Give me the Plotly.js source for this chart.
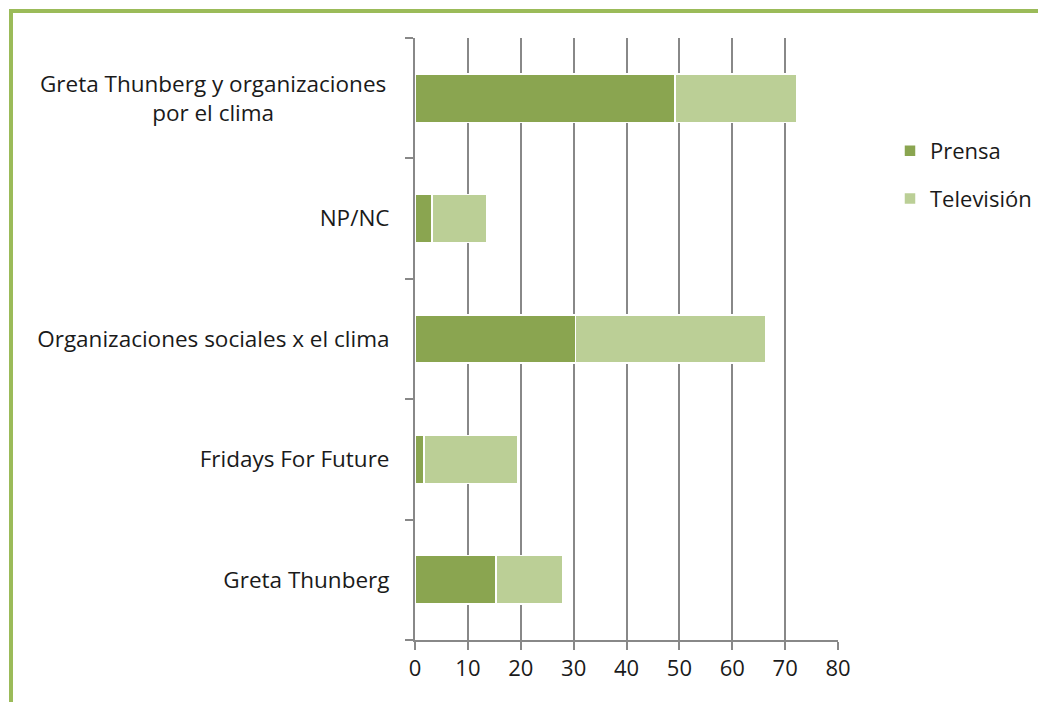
<!DOCTYPE html>
<html>
<head>
<meta charset="utf-8">
<script src="https://cdn.plot.ly/plotly-3.0.1.min.js"></script>
<style>html,body{margin:0;padding:0;background:#fff;}#chart{width:1038px;height:702px;}</style>
</head>
<body>
<div id="chart"></div>
<script>
const categories = ['Greta Thunberg', 'Fridays For Future', 'Organizaciones sociales x el clima', 'NP/NC', 'Greta Thunberg y organizaciones<br>por el clima'];
const prensa = [15.3, 1.7, 30.4, 3.2, 49.2];
const television = [12.7, 17.8, 36.0, 10.4, 23.0];
const seriesNames = ['Prensa', 'Televisión'];
const xTicks = [0, 10, 20, 30, 40, 50, 60, 70, 80];

const W = 1038, H = 702;
const M = {l: 415, r: 200, t: 38, b: 62};
const pw = W - M.l - M.r, ph = H - M.t - M.b;
const px2x = p => (p - M.l) / pw;
const px2y = p => (H - M.b - p) / ph;

const font = '"Open Sans", Lato, sans-serif';
const fs = 22.5;
const multiIdx = categories.findIndex(c => c.includes('<br>'));
const tickText = categories.map((c, i) => i === multiIdx ? '' : c);

const data = [
  {type: 'bar', orientation: 'h', name: seriesNames[0], legendgroup: 'a', legendrank: 1, y: categories, x: prensa,
   marker: {color: '#8aa550', line: {color: '#ffffff', width: 1.5}}, hoverinfo: 'x+y'},
  {type: 'bar', orientation: 'h', name: seriesNames[1], legendgroup: 'b', legendrank: 2, y: categories, x: television,
   marker: {color: '#bbcf96', line: {color: '#ffffff', width: 1.5}}, hoverinfo: 'x+y'}
];

const layout = {
  width: W, height: H,
  margin: M,
  paper_bgcolor: '#ffffff', plot_bgcolor: '#ffffff',
  barmode: 'stack', bargap: 0.6,
  font: {family: font, size: fs, color: '#1a1a1a'},
  showlegend: true,
  legend: {xref: 'container', yref: 'container', x: 890 / W, y: 1 - 130 / H, xanchor: 'left', yanchor: 'top',
           traceorder: 'grouped',
           font: {family: font, size: 22, color: '#1a1a1a'}, tracegroupgap: 16, itemwidth: 30,
           bgcolor: 'rgba(0,0,0,0)'},
  xaxis: {range: [0, 80], tickvals: xTicks, ticktext: xTicks.map(String),
          showgrid: true, gridcolor: '#888888', gridwidth: 2,
          showline: true, linecolor: '#888888', linewidth: 2,
          ticks: 'outside', ticklen: 8, tickwidth: 2, tickcolor: '#888888',
          zeroline: false, fixedrange: true, automargin: false,
          tickfont: {family: font, size: 22, color: '#1a1a1a'}},
  yaxis: {type: 'category', categoryorder: 'array', categoryarray: categories,
          tickvals: categories, ticktext: tickText,
          showgrid: false, showline: true, linecolor: '#888888', linewidth: 2,
          ticks: 'outside', ticklen: 8, tickwidth: 2, tickcolor: '#888888',
          tickson: 'boundaries', ticklabelstandoff: 19,
          zeroline: false, fixedrange: true, automargin: false,
          tickfont: {family: font, size: fs, color: '#1a1a1a'}},
  annotations: [
    {xref: 'paper', yref: 'y', x: px2x(388), y: categories[multiIdx], xanchor: 'right', yanchor: 'middle',
     text: categories[multiIdx], align: 'center', showarrow: false,
     font: {family: font, size: fs, color: '#1a1a1a'}}
  ],
  shapes: [
    {type: 'line', xref: 'paper', yref: 'paper', x0: px2x(11), x1: px2x(11), y0: px2y(9), y1: px2y(H + 5),
     line: {color: '#9bbb59', width: 4}},
    {type: 'line', xref: 'paper', yref: 'paper', x0: px2x(9), x1: px2x(W + 5), y0: px2y(11), y1: px2y(11),
     line: {color: '#9bbb59', width: 4}}
  ]
};

Plotly.newPlot('chart', data, layout, {displayModeBar: false, staticPlot: true});
</script>
</body>
</html>
